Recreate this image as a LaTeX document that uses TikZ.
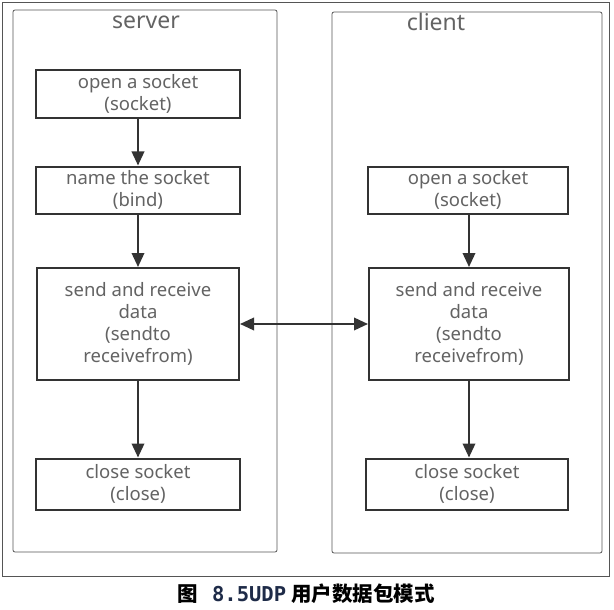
\documentclass[tikz,border=0pt]{standalone}
\usepackage{fontspec}
\usepackage{tikz}
\usetikzlibrary{arrows.meta}
\setmainfont{Noto Sans}
\newfontfamily\cjk{Noto Sans CJK SC}
\newfontfamily\codefont{DejaVu Sans Mono}
\definecolor{txtgray}{HTML}{636363}
\definecolor{linegray}{HTML}{555555}
\definecolor{boxline}{HTML}{333333}
\definecolor{numblue}{HTML}{1E2B48}
\tikzstyle{panel}=[draw=linegray,line width=0.8pt,rounded corners=2pt]
\tikzstyle{stepbox}=[draw=boxline,line width=2pt,fill=white,text=txtgray,align=center,
  inner sep=0pt,font=\fontsize{18.5}{22}\selectfont]
\tikzstyle{flow}=[draw=boxline,line width=2pt,-{Triangle[length=14pt,width=12.5pt]}]

\begin{document}
\begin{tikzpicture}[x=1pt,y=-1pt]
      \useasboundingbox[fill=white] (0,0) rectangle (614,610);
      % frames
      \draw[draw=linegray,line width=0.9pt] (2,2) rectangle (609,576);
      \draw[panel] (13,10) rectangle (277,552);
      \draw[panel] (332,12) rectangle (602,553);
      \node[text=txtgray,font=\fontsize{23}{26}\selectfont] (svtitle) at (146,22) {server};
      \node[text=txtgray,font=\fontsize{23}{26}\selectfont] (cltitle) at (436,22) {client};
      % server side
      \node[stepbox,minimum width=204pt,minimum height=48pt] (sv1) at (138,94) {open a socket\\(socket)};
      \node[stepbox,minimum width=204pt,minimum height=47pt] (sv2) at (138,190) {name the socket\\(bind)};
      \node[stepbox,minimum width=202pt,minimum height=112pt] (sv3) at (138,324) {send and receive\\data\\(sendto\\receivefrom)};
      \node[stepbox,minimum width=204pt,minimum height=51pt] (sv4) at (138,484) {close socket\\(close)};
      % client side
      \node[stepbox,minimum width=200pt,minimum height=47pt] (cl1) at (468,190) {open a socket\\(socket)};
      \node[stepbox,minimum width=200pt,minimum height=112pt] (cl2) at (469,324) {send and receive\\data\\(sendto\\receivefrom)};
      \node[stepbox,minimum width=202pt,minimum height=51pt] (cl3) at (467,484) {close socket\\(close)};
      \draw[flow] (sv1) -- (sv2);
      \draw[flow] (sv2) -- (sv3);
      \draw[flow] (sv3) -- (sv4);
      \draw[flow] (cl1.south -| cl2.north) -- (cl2.north);
      \draw[flow] (cl2.south) -- (cl2.south |- cl3.north);
      \draw[flow,{Triangle[length=14pt,width=12.5pt]}-{Triangle[length=14pt,width=12.5pt]}] (sv3) -- (cl2);
      % caption
      \node[font=\fontsize{20.5}{24}\selectfont\bfseries] (caption) at (306,594)
        {\cjk 图\hspace{0.7em}{\codefont\color{numblue}8.5UDP}\hspace{0.25em}用户数据包模式};
    \end{tikzpicture}
\end{document}
